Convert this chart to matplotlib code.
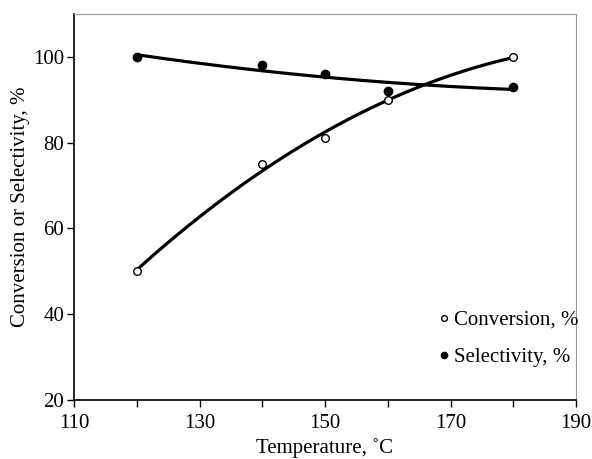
import matplotlib
matplotlib.use("Agg")
import matplotlib.pyplot as plt
import numpy as np

plt.rcParams['font.family'] = ['Liberation Serif', 'DejaVu Serif']

temp = [120, 140, 150, 160, 180]
conversion = [50, 75, 81, 90, 100]
selectivity = [100, 98, 96, 92, 93]

fig = plt.figure(figsize=(5.92, 4.59), dpi=100)
ax = fig.add_axes([74/592, 59/459, 502/592, 386/459])

# trend lines (2nd order fits, as in the original spreadsheet chart)
xs = np.linspace(min(temp), max(temp), 200)
for ys in (conversion, selectivity):
    c = np.polyfit(temp, ys, 2)
    ax.plot(xs, np.polyval(c, xs), color='black', lw=2.3, zorder=2)

ax.plot(temp, conversion, 'o', mfc='white', mec='black', mew=1, ms=5.5,
        zorder=3, label='Conversion, %')
ax.plot(temp, selectivity, 'o', mfc='black', mec='black', ms=6,
        zorder=3, label='Selectivity, %')

fs = 15
ax.set_xlim(110, 190)
ax.set_ylim(20, 110)
ax.set_xticks(range(110, 191, 20))
ax.set_xticks(range(120, 191, 20), minor=True)
ax.set_yticks(range(20, 101, 20))
ax.tick_params(labelsize=fs, direction='out', length=5, width=1)
ax.tick_params(which='minor', direction='out', length=5, width=1)
ax.tick_params(axis='x', pad=5)
ax.tick_params(axis='y', pad=2)
for s in ('top', 'right'):
    ax.spines[s].set_color('#999999')
ax.spines['left'].set_linewidth(1.2)
ax.spines['bottom'].set_linewidth(1.2)

ax.set_xlabel('Temperature, ˚C', fontsize=fs, labelpad=4)
ax.set_ylabel('Conversion or Selectivity, %', fontsize=fs, labelpad=2)

leg = ax.legend(loc='lower right', bbox_to_anchor=(1.005, 0.085), frameon=False,
                fontsize=fs, handlelength=0.4, handletextpad=0.3,
                markerscale=0.75, labelspacing=0.85, borderaxespad=0,
                borderpad=0)

fig.savefig('out.png', dpi=100)
